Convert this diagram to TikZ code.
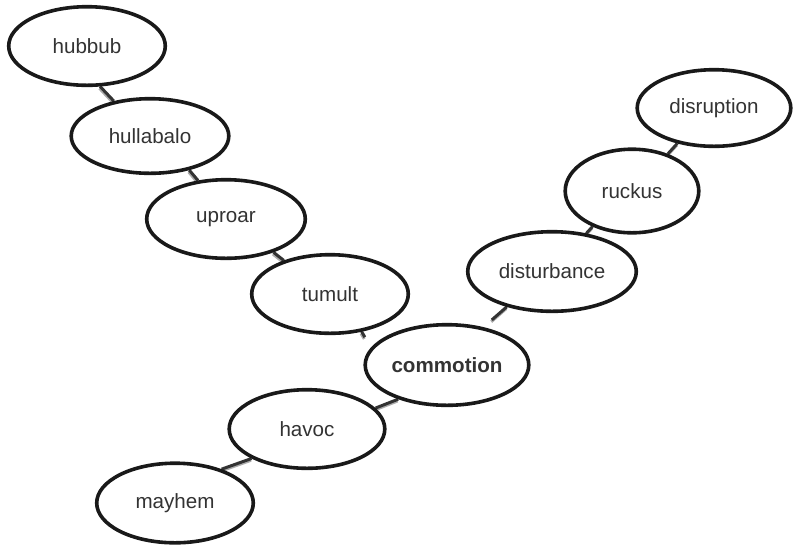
\documentclass[tikz,border=0pt]{standalone}
\usepackage{fontspec}
\setmainfont{Liberation Sans}
\usetikzlibrary{shapes.geometric}
\pgfdeclarelayer{bg}
\pgfsetlayers{bg,main}
\definecolor{linkdark}{HTML}{333333}
\definecolor{linkshade}{HTML}{ABABAB}

\begin{document}
\begin{tikzpicture}[
  x=0.5pt, y=-0.5pt,
  font=\fontsize{10.3}{12}\selectfont,
  bubble/.style={ellipse, draw=black!90, line width=1.8pt, fill=white, text=black!80,
    inner sep=0pt, minimum width=78.3pt, minimum height=39.3pt},
  link/.style={draw=linkdark, line width=1.5pt,
    preaction={draw=linkshade, line width=1.5pt, transform canvas={shift={(-0.3pt,-0.9pt)}}}}
]
\useasboundingbox (0,0) rectangle (793,548);

% left arm
\node[bubble] (hubbub) at (87,46) {hubbub};
\node[bubble, minimum height=37.3pt, minimum width=78.8pt] (hullabalo) at (150,136) {hullabalo};
\node[bubble, minimum width=79.3pt] (uproar) at (226,219) {uproar};
\node[bubble] (tumult) at (330,294) {tumult};

% centre
\node[bubble, minimum width=81.8pt, minimum height=40.3pt] (commotion) at (447,365) {\bfseries commotion};

% lower arm
\node[bubble, minimum width=77.8pt] (havoc) at (307,429) {havoc};
\node[bubble, minimum height=39.8pt] (mayhem) at (175,503) {mayhem};

% right arm
\node[bubble, minimum width=84.3pt, minimum height=39.8pt] (disturbance) at (552,271.5) {disturbance};
\node[bubble, minimum width=66.8pt, minimum height=41.8pt] (ruckus) at (632,191) {ruckus};
\node[bubble, minimum width=76.8pt, minimum height=38.3pt] (disruption) at (714,108) {disruption};

\begin{pgfonlayer}{bg}
\draw[link] (hubbub.-72) -- (hullabalo.136);
\draw[link] (hullabalo.-41) -- (uproar.126);
\draw[link] (uproar.-35) -- (tumult.144);
\draw[link, shorten >=6pt] (tumult.-50) -- (commotion.167);
\draw[link] (havoc.17) -- (commotion.-145);
\draw[link] (mayhem.36) -- (havoc.-152);
\draw[link, shorten <=5.5pt] (commotion.46) -- (disturbance.-142);
\draw[link] (disturbance.48) -- (ruckus.-138);
\draw[link] (ruckus.46) -- (disruption.-136);
\end{pgfonlayer}

\end{tikzpicture}
\end{document}
